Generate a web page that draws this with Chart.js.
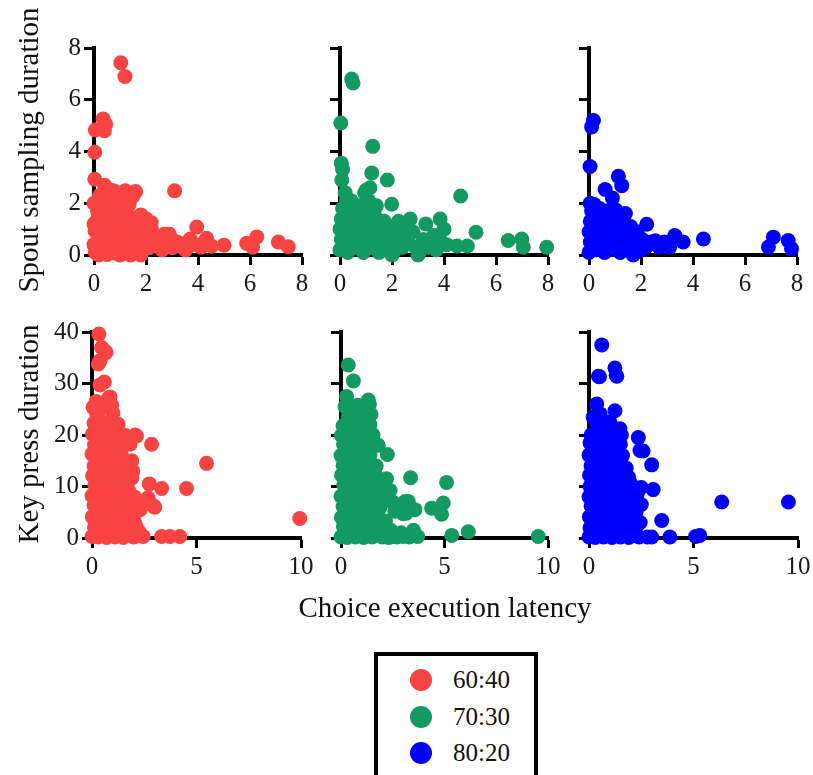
<!DOCTYPE html>
<html><head><meta charset="utf-8">
<script src="https://cdn.jsdelivr.net/npm/chart.js@4"></script>
<style>
body{margin:0;background:#fff;width:813px;height:775px;overflow:hidden;position:relative;font-family:'Liberation Serif','Times New Roman',serif;color:#111;}
canvas{position:absolute;}
.ytitle{position:absolute;font-size:29px;white-space:nowrap;transform:translate(-50%,-50%) rotate(-90deg);}
.xtitle{position:absolute;font-size:29px;white-space:nowrap;transform:translate(-50%,-50%);}
#legend{position:absolute;left:374px;top:652px;width:156px;height:140px;border:4px solid #000;box-sizing:content-box;}
.item{position:absolute;left:0;height:30px;font-size:25px;line-height:30px;}
.dot{position:absolute;width:22px;height:22px;border-radius:50%;}
</style></head>
<body>
<canvas id="c1"></canvas><canvas id="c2"></canvas><canvas id="c3"></canvas>
<canvas id="c4"></canvas><canvas id="c5"></canvas><canvas id="c6"></canvas>
<div class="ytitle" style="left:28px;top:150px">Spout sampling duration</div>
<div class="ytitle" style="left:28px;top:434px">Key press duration</div>
<div class="xtitle" style="left:445px;top:607px">Choice execution latency</div>
<div id="legend"></div>
<script>
// ---- data: [choice execution latency, duration] ----
const groups = ['60:40', '70:30', '80:20'];
const groupColors = ['#F84343', '#139A61', '#0000FF'];
const xTicksTop = [0, 2, 4, 6, 8];
const yTicksTop = [0, 2, 4, 6, 8];
const xTicksBottom = [0, 5, 10];
const yTicksBottom = [0, 10, 20, 30, 40];

const spout6040 = [
[1.03,7.43],[1.19,6.9],[0.35,5.26],[0.45,5.05],[0.05,4.83],[0.4,4.8],[0.03,3.97],[0.03,2.93],[0.4,2.7],[0.75,2.48],[1.2,2.48],[1.6,2.45],[3.1,2.48],[0.2,1.75],[2.0,1.4],[3.95,1.08],[4.33,0.65],[5.0,0.38],[5.87,0.45],[6.26,0.7],[6.1,0.3],[7.09,0.5],[7.47,0.32],[2.7,0.8],[3.2,0.5],[3.6,0.5],
[0.05,0.1],[0.12,0.52],[0.04,0.93],[0.1,1.32],[0.14,1.68],[0.28,0.18],[0.36,0.71],[0.31,1.12],[0.42,1.47],[0.52,1.98],[0.55,0.38],[0.62,0.91],[0.71,1.3],[0.66,1.79],[0.81,0.08],[0.86,0.6],[0.92,1.02],[0.97,1.58],[1.02,2.12],[1.06,0.3],[1.12,0.79],[1.21,1.18],[1.26,1.71],[1.31,2.2],[1.36,0.48],[1.46,0.12],[1.5,0.98],[1.56,1.42],[1.62,0.58],[1.71,0.1],[1.76,0.88],[1.86,0.4],[1.92,1.2],[2.02,0.68],[2.12,0.28],[2.21,0.98],[2.32,0.5],[2.52,0.66],[2.62,0.2],[2.83,0.42],[3.02,0.28],[3.31,0.35],[3.52,0.2],[3.81,0.4],[4.12,0.3],[4.52,0.34],[0.22,2.3],[0.92,2.4],[0.62,2.5],[1.5,2.28],[1.1,1.9],[0.18,0.0],[0.5,0.02],[1.0,0.0],[1.4,0.0],[1.8,0.0],[0.0,0.4],[0.0,1.2],[0.0,2.0],[2.9,0.8],[3.7,0.62],[4.22,0.48],[1.8,1.55],[2.2,1.25],
[0.2,0.8],[0.45,1.25],[0.75,0.35],[0.8,1.6],[1.15,1.45],[1.4,0.75],[1.65,1.05],[1.35,1.95],[0.55,2.2],[0.3,1.9]
];
const spout7030 = [
[0.45,6.8],[0.5,6.65],[0.03,5.1],[1.26,4.2],[0.05,3.55],[0.1,3.3],[0.07,2.9],[1.22,3.17],[1.82,2.9],[1.0,2.5],[4.64,2.28],[1.99,1.96],[2.7,1.39],[3.85,1.39],[3.3,1.2],[4.0,1.0],[5.23,0.88],[6.47,0.56],[6.99,0.62],[7.05,0.3],[7.95,0.3],[4.5,0.35],[4.9,0.35],[3.0,0.0],[2.0,0.0],
[0.0,0.2],[0.05,0.6],[0.0,1.0],[0.05,1.4],[0.1,1.8],[0.3,0.1],[0.3,0.5],[0.35,0.9],[0.3,1.3],[0.4,1.7],[0.42,2.1],[0.6,0.3],[0.65,0.7],[0.6,1.1],[0.7,1.5],[0.75,1.9],[0.9,0.1],[0.95,0.5],[0.9,0.9],[1.0,1.3],[1.05,1.7],[1.1,2.1],[1.2,0.3],[1.25,0.7],[1.3,1.1],[1.35,1.5],[1.4,1.9],[1.5,0.1],[1.55,0.5],[1.6,0.9],[1.7,1.3],[1.8,0.3],[1.85,0.7],[1.9,1.1],[2.05,0.1],[2.1,0.5],[2.2,0.9],[2.25,1.3],[2.4,0.3],[2.6,0.6],[2.8,0.9],[2.9,0.3],[3.2,0.6],[3.4,0.3],[3.6,0.75],[3.7,0.2],[3.9,0.5],[4.1,0.4],[0.2,2.4],[0.95,2.4],[1.15,2.6],
[0.15,0.35],[0.5,1.45],[0.8,1.15],[1.2,1.8],[1.5,1.3],[0.25,2.1],[0.8,0.6],[1.7,0.6],[2.5,1.0],[3.1,0.2]
];
const spout8020 = [
[0.17,5.2],[0.1,4.95],[0.04,3.42],[1.13,3.04],[1.26,2.68],[0.62,2.53],[0.04,2.0],[1.04,1.73],[2.22,1.19],[3.3,0.75],[3.62,0.5],[4.4,0.62],[7.09,0.69],[6.9,0.31],[7.66,0.56],[7.79,0.24],[2.55,0.55],[0.9,2.2],
[0.0,0.1],[0.05,0.5],[0.0,0.9],[0.05,1.3],[0.1,1.7],[0.3,0.2],[0.35,0.6],[0.3,1.0],[0.35,1.4],[0.4,1.8],[0.6,0.1],[0.6,0.5],[0.65,0.9],[0.7,1.3],[0.7,1.7],[0.9,0.3],[0.95,0.7],[1.0,1.1],[1.05,1.5],[1.2,0.1],[1.25,0.5],[1.3,0.9],[1.35,1.3],[1.5,0.3],[1.55,0.7],[1.6,1.1],[1.7,0.0],[1.8,0.5],[1.85,0.9],[2.0,0.2],[2.05,0.6],[2.2,0.3],[2.4,0.5],[2.7,0.3],[2.9,0.5],[3.1,0.3],[0.2,1.95],[1.4,1.6],
[0.15,0.3],[0.5,1.15],[0.8,0.5],[1.1,0.35],[1.45,1.0],[0.85,1.55],[1.9,0.25]
];
const press6040 = [
[0.33,39.6],[0.46,37],[0.67,36],[0.3,33.8],[0.59,30.3],[0.78,27.1],[0.94,25.8],[0.2,24.5],[2.13,19.8],[1.82,18.2],[2.85,18.2],[1.9,15],[1.95,13],[5.48,14.5],[2.74,10.5],[3.33,9.6],[4.52,9.6],[1.75,9.2],[2.6,7.3],[3.0,6.0],[1.9,4.8],[9.94,3.8],[2.45,0.3],[3.33,0.3],[3.73,0.3],[4.2,0.3],
[0.0,0.3],[0.02,4.1],[0.0,8.2],[0.03,12.1],[0.0,16.3],[0.02,20.2],[0.12,2.1],[0.1,6.3],[0.14,10.2],[0.1,14.0],[0.12,18.1],[0.1,22.3],[0.3,0.2],[0.32,4.0],[0.28,8.1],[0.33,12.3],[0.3,16.0],[0.31,20.1],[0.34,23.2],[0.5,2.2],[0.52,6.1],[0.5,10.0],[0.53,14.2],[0.5,18.3],[0.51,22.0],[0.7,0.1],[0.72,4.2],[0.7,8.0],[0.73,12.2],[0.7,16.1],[0.71,20.3],[0.9,2.0],[0.92,6.2],[0.9,10.3],[0.93,14.1],[0.9,18.0],[1.1,0.2],[1.12,4.1],[1.1,8.3],[1.13,12.0],[1.1,16.2],[1.05,19.8],[1.3,2.1],[1.32,6.0],[1.3,10.2],[1.28,13.9],[1.5,0.1],[1.52,4.2],[1.5,8.1],[1.55,11.8],[1.7,2.0],[1.72,6.2],[2.0,0.2],[2.02,3.3],[2.05,7.9],[2.25,1.2],[2.3,5.5],[0.85,22.5],[0.2,26.5],
[1.4,16.2],[1.5,18.1],[1.6,19.9],[1.7,14.2],[1.6,10.3],[1.8,7.9],[2.0,5.2],[2.1,2.2],[1.9,11.6],[1.25,22.1],[1.0,24.2],[0.6,25.5],[0.05,25.4],[0.38,29.7],[0.86,27.4],[0.62,36.3],[0.38,34.4],[2.06,20.0],[1.73,12.6],[2.68,7.8],[2.92,6.3],[1.96,3.5],[1.2,18.2],[0.8,21.5],[1.4,4.5],[1.6,6.0],[1.3,8.0],[1.8,1.0],[1.45,13.0]
];
const press7030 = [
[0.35,33.6],[0.6,30.5],[0.27,27.5],[1.32,26.8],[1.37,25.9],[2.24,16.2],[1.7,12],[1.95,11],[3.36,11.7],[5.1,10.8],[2.1,9.3],[2.0,8.0],[3.25,7.1],[3.57,5.5],[4.38,5.8],[4.94,6.8],[4.86,4.6],[3.0,4.7],[1.9,3.6],[5.35,0.5],[6.15,1.2],[9.53,0.3],[3.7,0.3],[3.0,0.3],[2.5,0.3],
[0.0,0.2],[0.02,4.0],[0.0,8.1],[0.03,12.2],[0.0,16.0],[0.02,19.9],[0.12,2.2],[0.1,6.1],[0.13,10.3],[0.1,14.1],[0.12,18.2],[0.1,21.8],[0.3,0.1],[0.32,4.2],[0.3,8.0],[0.33,12.0],[0.3,16.2],[0.31,20.0],[0.35,23.5],[0.5,2.0],[0.52,6.2],[0.5,10.1],[0.53,14.0],[0.5,18.1],[0.55,22.2],[0.7,0.2],[0.72,4.1],[0.7,8.2],[0.73,12.1],[0.7,16.0],[0.72,20.2],[0.9,2.1],[0.92,6.0],[0.9,10.2],[0.93,14.2],[0.9,18.0],[0.95,22.8],[1.1,0.1],[1.12,4.2],[1.1,8.0],[1.13,12.2],[1.1,16.1],[1.15,20.3],[1.3,2.0],[1.32,6.1],[1.3,10.0],[1.25,14.0],[1.35,18.5],[1.4,22.0],[1.5,0.2],[1.52,4.0],[1.55,8.1],[1.7,2.1],[1.75,6.0],[2.0,0.2],[2.05,1.8],[2.3,0.1],[2.7,0.2],[3.3,0.2],
[1.4,16.1],[1.5,12.0],[1.55,20.0],[1.6,10.2],[1.7,14.0],[1.45,24.0],[1.0,24.5],[0.5,25.0],[0.2,25.5],[2.37,9.2],[2.2,11.5],[2.5,7.0],[2.15,3.3],[2.6,5.2],[3.1,7.1],[3.15,4.8],[1.8,9.0],[1.9,6.0],[1.65,4.0],[2.4,1.5],[2.9,1.0],[3.5,1.5],[1.2,24.0],[0.8,25.8],[1.1,18.0],[0.4,20.8],[0.8,14.0],[1.4,7.5],[1.8,18.0]
];
const press8020 = [
[0.61,37.5],[1.24,33],[1.33,31.4],[0.45,31.4],[0.37,26],[1.24,24.7],[0.53,24.1],[1.48,21.2],[0.77,20.6],[2.36,19.5],[2.44,17],[3.0,14.2],[0.1,20],[1.6,12.4],[3.07,9.4],[6.35,7.0],[9.54,7.0],[3.48,3.4],[3.0,0.2],[3.87,0.2],[5.3,0.5],[2.8,0.2],[5.1,0.3],
[0.0,0.2],[0.02,4.1],[0.0,8.0],[0.03,12.2],[0.0,16.1],[0.12,2.0],[0.1,6.2],[0.13,10.1],[0.1,14.0],[0.12,18.0],[0.3,0.1],[0.32,4.0],[0.3,8.2],[0.33,12.0],[0.3,16.2],[0.35,19.5],[0.5,2.1],[0.52,6.0],[0.5,10.2],[0.53,14.1],[0.5,18.0],[0.7,0.2],[0.72,4.2],[0.7,8.1],[0.73,12.2],[0.7,16.0],[0.9,2.0],[0.92,6.1],[0.9,10.0],[0.93,14.2],[0.95,18.0],[1.1,0.1],[1.12,4.0],[1.1,8.2],[1.13,12.0],[1.1,16.1],[1.3,2.2],[1.32,6.0],[1.3,10.1],[1.35,14.5],[1.5,0.2],[1.52,4.1],[1.55,8.0],[1.7,2.0],[1.72,6.1],[1.75,10.0],[1.9,0.1],[1.95,4.0],[2.0,7.5],[2.2,2.1],[2.25,5.0],[2.4,0.2],
[1.3,31.6],[0.5,31.3],[1.5,18.2],[1.6,16.0],[1.55,20.0],[1.78,13.6],[2.0,10.5],[2.3,8.5],[2.5,6.5],[2.45,3.0],[2.2,1.0],[2.5,9.8],[1.9,11.8],[1.85,2.0],[2.1,4.5],[2.3,2.5],[2.59,16.9],[1.25,18.5],[0.9,20.0],[0.4,22.0],[0.2,23.5],[1.0,22.5],[1.4,12.0],[1.7,8.0],[1.6,5.0],[0.05,18.5],[0.05,10.0],[0.05,2.0]
];

// ---- panels ----
const panels = [
  {id:'c1', pts:spout6040, color:0, xt:xTicksTop, yt:yTicksTop, box:{l:94,r:302,t:45,b:255}, yLabels:true},
  {id:'c2', pts:spout7030, color:1, xt:xTicksTop, yt:yTicksTop, box:{l:340,r:548,t:45,b:255}, yLabels:false},
  {id:'c3', pts:spout8020, color:2, xt:xTicksTop, yt:yTicksTop, box:{l:589,r:797,t:45,b:255}, yLabels:false},
  {id:'c4', pts:press6040, color:0, xt:xTicksBottom, yt:yTicksBottom, box:{l:92,r:301,t:329,b:538}, yLabels:true},
  {id:'c5', pts:press7030, color:1, xt:xTicksBottom, yt:yTicksBottom, box:{l:341,r:548,t:329,b:538}, yLabels:false},
  {id:'c6', pts:press8020, color:2, xt:xTicksBottom, yt:yTicksBottom, box:{l:589,r:798,t:329,b:538}, yLabels:false}
];
const PAD_L = 60, PAD_R = 18, PAD_T = 15, PAD_B = 50;
const SERIF = 'Liberation Serif';
Chart.defaults.font.family = SERIF;

function axis(ticksArr, showLabels, which) {
  return {
    type: 'linear', min: ticksArr[0], max: ticksArr[ticksArr.length - 1],
    afterBuildTicks: s => { s.ticks = ticksArr.map(v => ({value: v})); },
    ticks: {
      color: '#1a1a1a', font: {family: SERIF, size: 25},
      padding: which === 'x' ? 4 : 3, maxRotation: 0, autoSkip: false,
      callback: v => showLabels ? String(v) : ''
    },
    grid: {drawOnChartArea: false, drawTicks: true, tickLength: 10, tickWidth: 3, tickColor: '#000', color: '#000'},
    border: {display: true, color: '#000', width: 4},
    afterFit: s => { if (which === 'x') s.height = PAD_B; else s.width = PAD_L; }
  };
}

function build() {
  panels.forEach(p => {
    const c = document.getElementById(p.id);
    const W = p.box.r - p.box.l + PAD_L + PAD_R;
    const H = p.box.b - p.box.t + PAD_T + PAD_B;
    c.width = W; c.height = H;
    c.style.left = (p.box.l - PAD_L) + 'px';
    c.style.top = (p.box.t - PAD_T) + 'px';
    const col = groupColors[p.color];
    new Chart(c, {
      type: 'scatter',
      data: {datasets: [{
        label: groups[p.color],
        data: p.pts.map(v => ({x: v[0], y: v[1]})),
        backgroundColor: col, borderColor: col, borderWidth: 0,
        pointRadius: 7.5, clip: false
      }]},
      options: {
        responsive: false, animation: false, events: [],
        layout: {padding: {top: PAD_T, right: PAD_R, left: 0, bottom: 0}},
        plugins: {legend: {display: false}, tooltip: {enabled: false}},
        scales: {x: axis(p.xt, true, 'x'), y: axis(p.yt, p.yLabels, 'y')}
      }
    });
  });
}
build();

// ---- legend ----
const lg = document.getElementById('legend');
groups.forEach((g, i) => {
  const item = document.createElement('div');
  item.className = 'item';
  item.style.top = (9 + i * 36.5) + 'px';
  item.style.width = '156px';
  const d = document.createElement('div');
  d.className = 'dot';
  d.style.background = groupColors[i];
  d.style.left = '32px'; d.style.top = '4px';
  const t = document.createElement('span');
  t.textContent = g;
  t.style.position = 'absolute'; t.style.left = '75px'; t.style.top = '0px';
  item.appendChild(d); item.appendChild(t);
  lg.appendChild(item);
});
</script>
</body></html>
